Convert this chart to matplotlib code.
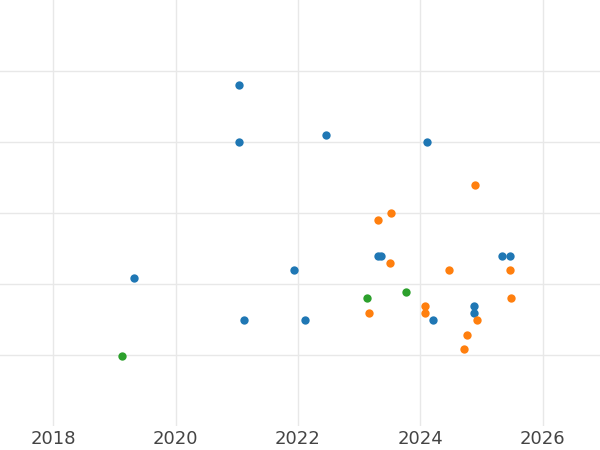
import matplotlib
matplotlib.use("Agg")
import matplotlib.pyplot as plt

blue_x = [2021.04, 2021.04, 2022.46, 2024.11, 2019.32, 2021.93, 2023.31, 2023.36, 2025.34, 2025.47, 2021.12, 2022.12, 2024.21, 2024.88, 2024.88]
blue_y = [4.80, 4.00, 4.10, 4.00, 2.08, 2.20, 2.39, 2.39, 2.39, 2.39, 1.49, 1.49, 1.49, 1.69, 1.59]
orange_x = [2024.90, 2023.53, 2023.31, 2023.51, 2024.47, 2025.47, 2025.48, 2024.08, 2024.08, 2023.16, 2024.93, 2024.77, 2024.72]
orange_y = [3.39, 3.00, 2.90, 2.30, 2.20, 2.20, 1.80, 1.69, 1.59, 1.59, 1.49, 1.28, 1.08]
green_x = [2019.13, 2023.13, 2023.77]
green_y = [0.99, 1.80, 1.89]
xticks = [2018, 2020, 2022, 2024, 2026]

fig = plt.figure(figsize=(6, 4.5), dpi=100)
ax = fig.add_axes([0, 0.0533, 1, 0.9467])
ax.set_axisbelow(True)
for x, y, c in [(blue_x, blue_y, "#1f77b4"), (orange_x, orange_y, "#ff7f0e"), (green_x, green_y, "#2ca02c")]:
    ax.scatter(x, y, s=36, color=c, zorder=3, linewidths=0)
ax.set_xlim(2017.13, 2026.94)
ax.set_ylim(0, 6)
ax.set_xticks(xticks)
ax.set_yticks([1, 2, 3, 4, 5])
ax.set_yticklabels([])
ax.grid(True, color="#e8e8e8", linewidth=1)
for s in ax.spines.values():
    s.set_visible(False)
ax.tick_params(axis="x", length=0, labelsize=13, colors="#444444", pad=3)
ax.tick_params(axis="y", length=0)
fig.savefig("out.png", dpi=100)
